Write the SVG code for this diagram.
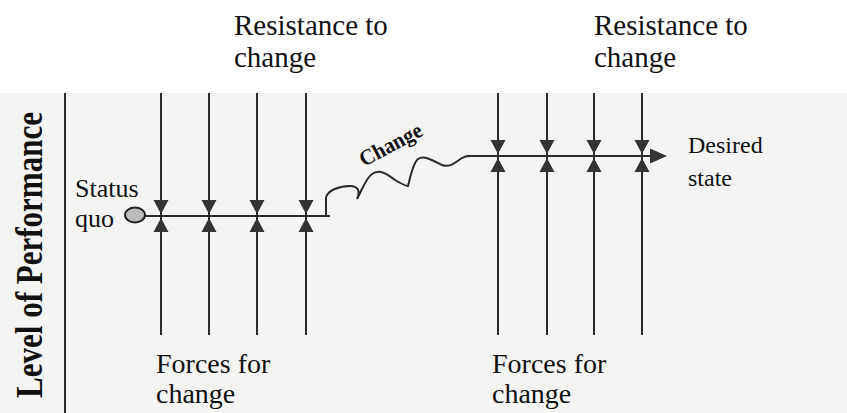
<svg xmlns="http://www.w3.org/2000/svg" width="847" height="413" viewBox="0 0 847 413">
<style>
text{font-family:"Liberation Serif","Times New Roman",Times,serif;fill:#111}
.ln{stroke:#2a2a2a;stroke-width:2;fill:none}
.tri{fill:#333}
</style>
<defs>
<path id="dn" d="M-7.5,-14 L7.5,-14 L0,0 Z"/>
<path id="up" d="M-7.5,14 L7.5,14 L0,0 Z"/>
</defs>
<rect x="0" y="0" width="847" height="413" fill="#ffffff"/>
<rect x="0" y="93" width="847" height="320" fill="#f4f4f3"/>
<g id="axis">
<line class="ln" x1="65" y1="93" x2="65" y2="413"/>
<text font-family="Liberation Serif, serif" font-weight="bold" font-size="38" text-anchor="middle" textLength="286" lengthAdjust="spacingAndGlyphs" transform="translate(42,255) rotate(-90)">Level of Performance</text>
</g>
<g id="connectors">
<line class="ln" x1="161" y1="93" x2="161" y2="335"/>
<line class="ln" x1="209" y1="93" x2="209" y2="335"/>
<line class="ln" x1="257" y1="93" x2="257" y2="335"/>
<line class="ln" x1="306" y1="93" x2="306" y2="335"/>
<line class="ln" x1="498" y1="93" x2="498" y2="335"/>
<line class="ln" x1="547" y1="93" x2="547" y2="335"/>
<line class="ln" x1="594" y1="93" x2="594" y2="335"/>
<line class="ln" x1="642" y1="93" x2="642" y2="335"/>
<line class="ln" x1="145" y1="216" x2="330" y2="216"/>
<path class="ln" d="M326,216 V198 C327,190 340,186 350,186 C357,186 361,190 357,199 C362,190 366,178 372,174 C380,168 388,175 395,180 C400,183 405,186 408,186 C410,178 413,163 418,159 C424,155 432,160 442,165 C450,168 456,162 462,158 C465,156 467,156 470,156"/>
<line class="ln" x1="467" y1="156" x2="652" y2="156"/>
<path class="tri" d="M650,148.5 L667,156 L650,163.5 Z"/>
<g class="tri">
<use href="#dn" x="161" y="214"/><use href="#dn" x="209" y="214"/><use href="#dn" x="257" y="214"/><use href="#dn" x="306" y="214"/>
<use href="#up" x="161" y="218"/><use href="#up" x="209" y="218"/><use href="#up" x="257" y="218"/><use href="#up" x="306" y="218"/>
<use href="#dn" x="498" y="154"/><use href="#dn" x="547" y="154"/><use href="#dn" x="594" y="154"/><use href="#dn" x="642" y="154"/>
<use href="#up" x="498" y="158"/><use href="#up" x="547" y="158"/><use href="#up" x="594" y="158"/><use href="#up" x="642" y="158"/>
</g>
<text font-family="Liberation Serif, serif" font-weight="bold" font-size="22" text-anchor="middle" textLength="68" lengthAdjust="spacingAndGlyphs" transform="translate(394,151) rotate(-28)">Change</text>
</g>
<g id="status-quo">
<ellipse cx="135" cy="215" rx="10" ry="7.5" fill="#bdbdbd" stroke="#222" stroke-width="2"/>
<text font-family="Liberation Serif, serif" font-size="26" x="75" y="197">Status</text>
<text font-family="Liberation Serif, serif" font-size="26" x="75" y="227">quo</text>
</g>
<g id="desired-state">
<text font-family="Liberation Serif, serif" font-size="24" x="688" y="153">Desired</text>
<text font-family="Liberation Serif, serif" font-size="24" x="688" y="186">state</text>
</g>
<g id="resistance-left">
<text font-family="Liberation Serif, serif" font-size="29" x="234" y="35">Resistance to</text>
<text font-family="Liberation Serif, serif" font-size="29" x="234" y="67">change</text>
</g>
<g id="resistance-right">
<text font-family="Liberation Serif, serif" font-size="29" x="594" y="35">Resistance to</text>
<text font-family="Liberation Serif, serif" font-size="29" x="594" y="67">change</text>
</g>
<g id="forces-left">
<text font-family="Liberation Serif, serif" font-size="28" x="156" y="373">Forces for</text>
<text font-family="Liberation Serif, serif" font-size="28" x="156" y="403">change</text>
</g>
<g id="forces-right">
<text font-family="Liberation Serif, serif" font-size="28" x="492" y="373">Forces for</text>
<text font-family="Liberation Serif, serif" font-size="28" x="492" y="403">change</text>
</g>
</svg>
